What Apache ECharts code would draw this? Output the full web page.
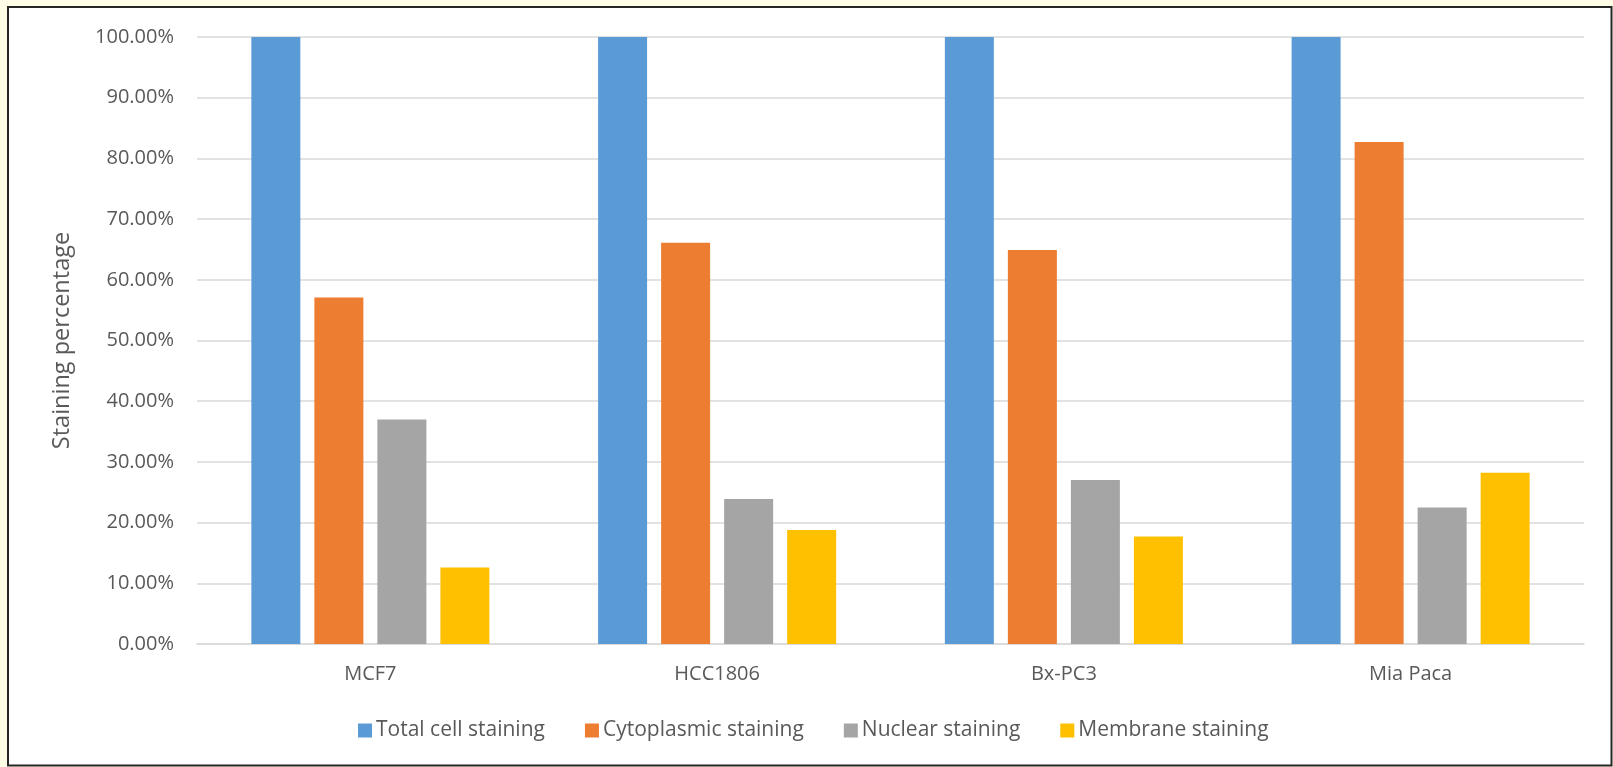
<!DOCTYPE html>
<html>
<head>
<meta charset="utf-8">
<title>Staining percentage by cell line</title>
<script src="https://cdn.jsdelivr.net/npm/echarts@6/dist/echarts.min.js"></script>
<style>
  html, body { margin: 0; padding: 0; background: #fffde6; }
  #chart { width: 1613px; height: 767px; }
</style>
</head>
<body>
<div id="chart"></div>
<script>
// Cell lines on the x axis
const cellLines = ['MCF7', 'HCC1806', 'Bx-PC3', 'Mia Paca'];

// Staining percentages per cell line
const totalCell   = [100, 100, 100, 100];
const cytoplasmic = [57.1, 66.1, 64.9, 82.7];
const nuclear     = [37.0, 23.9, 27.0, 22.5];
const membrane    = [12.6, 18.8, 17.7, 28.2];

const seriesNames = ['Total cell staining', 'Cytoplasmic staining', 'Nuclear staining', 'Membrane staining'];
const seriesColors = ['#5b9bd5', '#ed7d31', '#a5a5a5', '#ffc000'];
const seriesData = [totalCell, cytoplasmic, nuclear, membrane];

// Y axis range and step (percent)
const yMin = 0, yMax = 100, yStep = 10;

const FONT = '"Open Sans", "Noto Sans", sans-serif';
const TEXT = '#595959';

const chart = echarts.init(document.getElementById('chart'), null, { renderer: 'canvas' });

chart.setOption({
  backgroundColor: '#fffde6',
  animation: false,
  textStyle: { fontFamily: FONT },
  graphic: [{
    type: 'rect',
    z: -10,
    shape: { x: 8, y: 7, width: 1603.5, height: 758.5 },
    style: { fill: '#ffffff', stroke: '#262626', lineWidth: 2 }
  }],
  grid: { left: 197, right: 29, top: 37, bottom: 123, containLabel: false },
  legend: {
    left: 353,
    top: 715,
    itemWidth: 14,
    itemHeight: 14,
    itemGap: 40,
    icon: 'rect',
    textStyle: { color: TEXT, fontSize: 21, fontFamily: FONT, padding: [0, 0, 0, -1] },
    data: seriesNames
  },
  xAxis: {
    type: 'category',
    data: cellLines,
    axisTick: { show: false },
    axisLine: { show: true, lineStyle: { color: '#d9d9d9', width: 1.5 } },
    axisLabel: { color: TEXT, fontSize: 20, fontFamily: FONT, margin: 20 }
  },
  yAxis: {
    type: 'value',
    min: yMin,
    max: yMax,
    interval: yStep,
    name: 'Staining percentage',
    nameLocation: 'middle',
    nameGap: 123,
    nameTextStyle: { color: TEXT, fontSize: 23.5, fontFamily: FONT },
    axisLine: { show: false },
    axisTick: { show: false },
    axisLabel: {
      color: TEXT, fontSize: 20, fontFamily: FONT, margin: 23,
      formatter: v => v.toFixed(2) + '%'
    },
    splitLine: { lineStyle: { color: '#d9d9d9', width: 1.5 } }
  },
  series: seriesData.map((d, i) => ({
    name: seriesNames[i],
    type: 'bar',
    data: d,
    barWidth: 49,
    barGap: '28.6%',
    itemStyle: { color: seriesColors[i] }
  }))
});
</script>
</body>
</html>
